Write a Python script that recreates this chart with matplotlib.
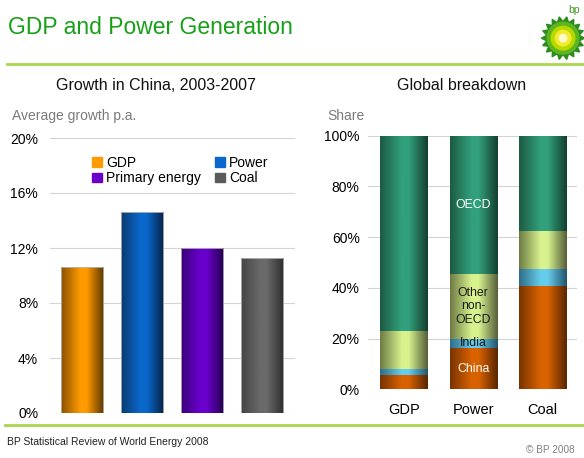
import numpy as np
import matplotlib
matplotlib.use("Agg")
import matplotlib.pyplot as plt
from matplotlib.colors import LinearSegmentedColormap
from matplotlib.patches import Patch, Polygon, Circle

plt.rcParams['font.family'] = ['Liberation Sans', 'DejaVu Sans']

# growth in China, 2003-2007 (% p.a.)
growth_names = ["GDP", "Power", "Primary energy", "Coal"]
growth_vals = [10.65, 14.6, 12.0, 11.25]
growth_ticks = [0, 4, 8, 12, 16, 20]

# global breakdown (% share)
share_cats = ["GDP", "Power", "Coal"]
share_china = [5.6, 16.4, 40.9]
share_india = [2.3, 3.4, 6.5]
share_other = [15.2, 25.8, 15.0]
share_oecd = [76.9, 54.4, 37.6]
share_ticks = [0, 20, 40, 60, 80, 100]

# (dark edge, bright middle, darker edge)
growth_cols = [("#8a5200", "#ff9a00", "#5e3800"),
               ("#0a3a70", "#0a68cc", "#06244a"),
               ("#3a0078", "#6a00cc", "#240050"),
               ("#444444", "#6a6a6a", "#2e2e2e")]
seg_cols = {"China": ("#7a3400", "#d96200", "#5a2600"),
            "India": ("#2e6e8a", "#66ccec", "#23556c"),
            "Other non-OECD": ("#6e7c44", "#d8f28e", "#56603a"),
            "OECD": ("#1c5c44", "#32a07c", "#143f30")}
legend_solid = ["#ff9a00", "#0a68cc", "#6a00cc", "#5a5a5a"]

grad = np.linspace(0, 1, 64)[np.newaxis, :]


def shade(ax, rects, cols):
    # cylinder-ish horizontal gradient inside each bar
    for r in rects:
        x0, y0, w, h = r.get_x(), r.get_y(), r.get_width(), r.get_height()
        cm = LinearSegmentedColormap.from_list(
            "g", [(0, cols[0]), (0.45, cols[1]), (0.6, cols[1]), (1, cols[2])])
        im = ax.imshow(grad, extent=[x0, x0 + w, y0, y0 + h], cmap=cm,
                       aspect='auto', zorder=3, interpolation='bilinear')
        im.set_clip_path(r)


fig = plt.figure(figsize=(5.84, 4.58), dpi=100)

# header / footer
fig.text(8 / 584, 1 - 28 / 458, "GDP and Power Generation", color="#16a016",
         fontsize=16.5, va='center', ha='left')
fig.add_artist(plt.Line2D([7 / 584, 1], [1 - 64 / 458] * 2, color="#a9d64c", lw=2))
fig.add_artist(plt.Line2D([5 / 584, 1], [1 - 425 / 458] * 2, color="#a9d64c", lw=2))
fig.text(7 / 584, 1 - 442 / 458, "BP Statistical Review of World Energy 2008",
         fontsize=7.5, va='center', ha='left', color="#222222")
fig.text(575 / 584, 1 - 450 / 458, "\u00a9 BP 2008", fontsize=7.2,
         va='center', ha='right', color="#808080")
fig.text(156 / 584, 1 - 86 / 458, "Growth in China, 2003-2007", fontsize=11.5,
         ha='center', va='center', color="#111111")
fig.text(462 / 584, 1 - 86 / 458, "Global breakdown", fontsize=11.5,
         ha='center', va='center', color="#111111")
fig.text(12 / 584, 1 - 116 / 458, "Average growth p.a.", fontsize=10,
         ha='left', va='center', color="#7a7a7a")
fig.text(327 / 584, 1 - 116 / 458, "Share", fontsize=10,
         ha='left', va='center', color="#7a7a7a")

# logo
lax = fig.add_axes([538 / 584, 1 - 62 / 458, 50 / 584, 50 / 458])
lax.set_xlim(-1.1, 1.1)
lax.set_ylim(-1.1, 1.1)
lax.set_aspect('equal')
lax.axis('off')
n = 18
ang = np.linspace(0, 2 * np.pi, 2 * n, endpoint=False)
rad = np.where(np.arange(2 * n) % 2 == 0, 0.95, 0.72)
lax.add_patch(Polygon(np.c_[rad * np.cos(ang), rad * np.sin(ang) - 0.05],
                      color="#2e8b1e"))
for rr, cc in [(0.7, "#5cb521"), (0.52, "#b8d800"), (0.34, "#f2ec30"), (0.16, "#fffbd0")]:
    lax.add_patch(Circle((0, -0.05), rr, color=cc))
fig.text(574 / 584, 1 - 10 / 458, "bp", color="#3a9a20", fontsize=7.5,
         ha='center', va='center')

# left chart
ax1 = fig.add_axes([50 / 584, 1 - 413 / 458, 245 / 584, 275 / 458])
x1 = np.arange(len(growth_names))
bars1 = ax1.bar(x1, growth_vals, width=0.7, facecolor='none',
                edgecolor="#b8b8b8", lw=0.6, zorder=4)
for r, c in zip(bars1, growth_cols):
    shade(ax1, [r], c)
ax1.set_xlim(-0.53, 3.55)
ax1.set_ylim(0, 20)
ax1.set_yticks(growth_ticks)
ax1.set_yticklabels([f"{t}%" for t in growth_ticks])
ax1.set_xticks([])
ax1.tick_params(axis='y', length=0, labelsize=10, pad=8.5)
ax1.grid(axis='y', color="#d4d4d4", lw=0.8, zorder=0)
ax1.set_axisbelow(True)
for s in ax1.spines.values():
    s.set_visible(False)
handles = [Patch(color=c) for c in legend_solid]
order = [0, 2, 1, 3]
ax1.legend([handles[i] for i in order], [growth_names[i] for i in order],
           ncol=2, frameon=False, loc='upper left',
           bbox_to_anchor=(0.15, 0.955), fontsize=10, handlelength=0.7,
           handleheight=0.7, handletextpad=0.3, columnspacing=1.0,
           labelspacing=0.1, borderaxespad=0)

# right chart
ax2 = fig.add_axes([368 / 584, 1 - 389.3 / 458, 209 / 584, 253.6 / 458])
x2 = np.arange(len(share_cats))
segs = [("China", share_china), ("India", share_india),
        ("Other non-OECD", share_other), ("OECD", share_oecd)]
bottom = np.zeros(len(share_cats))
mids = {}
for name, vals in segs:
    vals = np.array(vals)
    rects = ax2.bar(x2, vals, bottom=bottom, width=0.68, facecolor='none',
                    edgecolor='none', zorder=4)
    shade(ax2, rects, seg_cols[name])
    mids[name] = bottom + vals / 2
    bottom = bottom + vals
ax2.set_xlim(-0.52, 2.5)
ax2.set_ylim(0, 100)
ax2.set_yticks(share_ticks)
ax2.set_yticklabels([f"{t}%" for t in share_ticks])
ax2.set_xticks(x2)
ax2.set_xticklabels(share_cats)
ax2.tick_params(axis='y', length=0, labelsize=10, pad=6)
ax2.tick_params(axis='x', length=0, labelsize=10.5, pad=10)
ax2.grid(axis='y', color="#d4d4d4", lw=0.8, zorder=0)
ax2.set_axisbelow(True)
for s in ax2.spines.values():
    s.set_visible(False)

lab_style = {"China": ("China", "white"), "India": ("India", "#1a1a1a"),
             "Other non-OECD": ("Other\nnon-\nOECD", "#1a1a1a"),
             "OECD": ("OECD", "white")}
for name, (txt, col) in lab_style.items():
    ax2.text(1, mids[name][1], txt, ha='center', va='center', color=col,
             fontsize=8.8, zorder=6, linespacing=1.15)

fig.savefig("out.png", dpi=100)
